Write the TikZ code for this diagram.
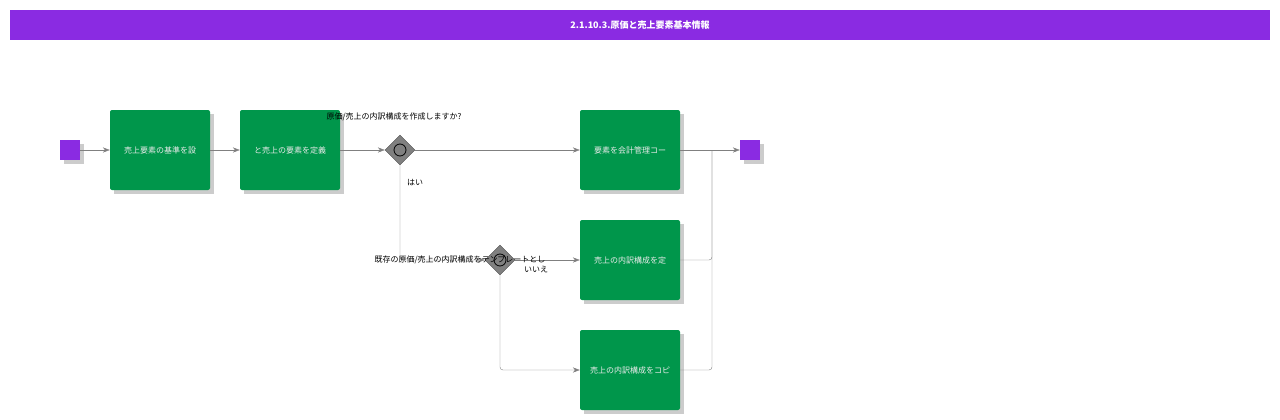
\documentclass[tikz,border=0pt]{standalone}
\usepackage{fontspec}
\newfontfamily\cjk{Noto Sans CJK JP}
\usetikzlibrary{arrows.meta,positioning,calc,shapes.geometric}
\definecolor{bpurple}{HTML}{8A2BE2}
\definecolor{bgreen}{HTML}{00964B}
\begin{document}
\begin{tikzpicture}[x=1pt,y=-1pt,
  task/.style={fill=bgreen,rounded corners=2pt,minimum width=100pt,minimum height=80pt,
    inner sep=0pt,text=white!85!gray,font=\cjk\fontsize{8}{9}\selectfont,
    drop shadow/.style={},
    postaction={}},
  ev/.style={fill=bpurple,minimum size=20pt,inner sep=0pt},
  gw/.style={diamond,fill=gray,draw=gray!60!black,minimum size=30pt,inner sep=0pt},
  flow/.style={draw=gray,-{Stealth[length=7pt]}},
  lbl/.style={font=\cjk\fontsize{8}{9}\selectfont}]
  \useasboundingbox (0,0) rectangle (1280,420);
  % title
  \fill[bpurple] (10,10) rectangle (1270,40);
  \node[text=white,font=\cjk\bfseries\fontsize{9}{10}\selectfont] (title) at (640,25) {2.1.10.3.原価と売上要素基本情報};

  % shadows
  \foreach \x/\y in {110/110,240/110,580/110,580/220,580/330}
    \fill[gray!40] (\x+4,\y+4) rectangle ++(100,80);
  \fill[gray!40] (64,144) rectangle ++(20,20);
  \fill[gray!40] (744,144) rectangle ++(20,20);

  % nodes
  \node[ev] (start) at (70,150) {};
  \node[task] (t1) at (160,150) {売上要素の基準を設};
  \node[task] (t2) at (290,150) {と売上の要素を定義};
  \node[gw] (g1) at (400,150) {};
  \draw[thick] (g1) circle (6pt);
  \node[task] (t3) at (630,150) {要素を会計管理コー};
  \node[task] (t4) at (630,260) {売上の内訳構成を定};
  \node[task] (t5) at (630,370) {売上の内訳構成をコピ};
  \node[gw] (g2) at (500,260) {};
  \draw[thick] (g2) circle (6pt);
  \node[ev] (end) at (750,150) {};
  \coordinate (m) at (712,150);

  % flows
  \draw[flow] (start) -- (t1);
  \draw[flow] (t1) -- (t2);
  \draw[flow] (t2) -- (g1);
  \draw[flow] (g1) -- (t3);
  \draw[flow,rounded corners=3pt] (g1) |- (g2);
  \draw[flow] (g2) -- (t4);
  \draw[flow,rounded corners=3pt] (g2) |- (t5);
  \draw[gray,rounded corners=3pt] (t4) -| (m);
  \draw[gray,rounded corners=3pt] (t5) -| (m);
  \draw[flow] (t3) -- (end);

  % labels
  \node[lbl] (q1) at (394,117) {原価/売上の内訳構成を作成しますか?};
  \node[lbl] (yes) at (415,183) {はい};
  \node[lbl] (q2) at (460,260) {既存の原価/売上の内訳構成をテンプレートとし};
  \node[lbl] (no) at (536,270) {いいえ};
\end{tikzpicture}
\end{document}
